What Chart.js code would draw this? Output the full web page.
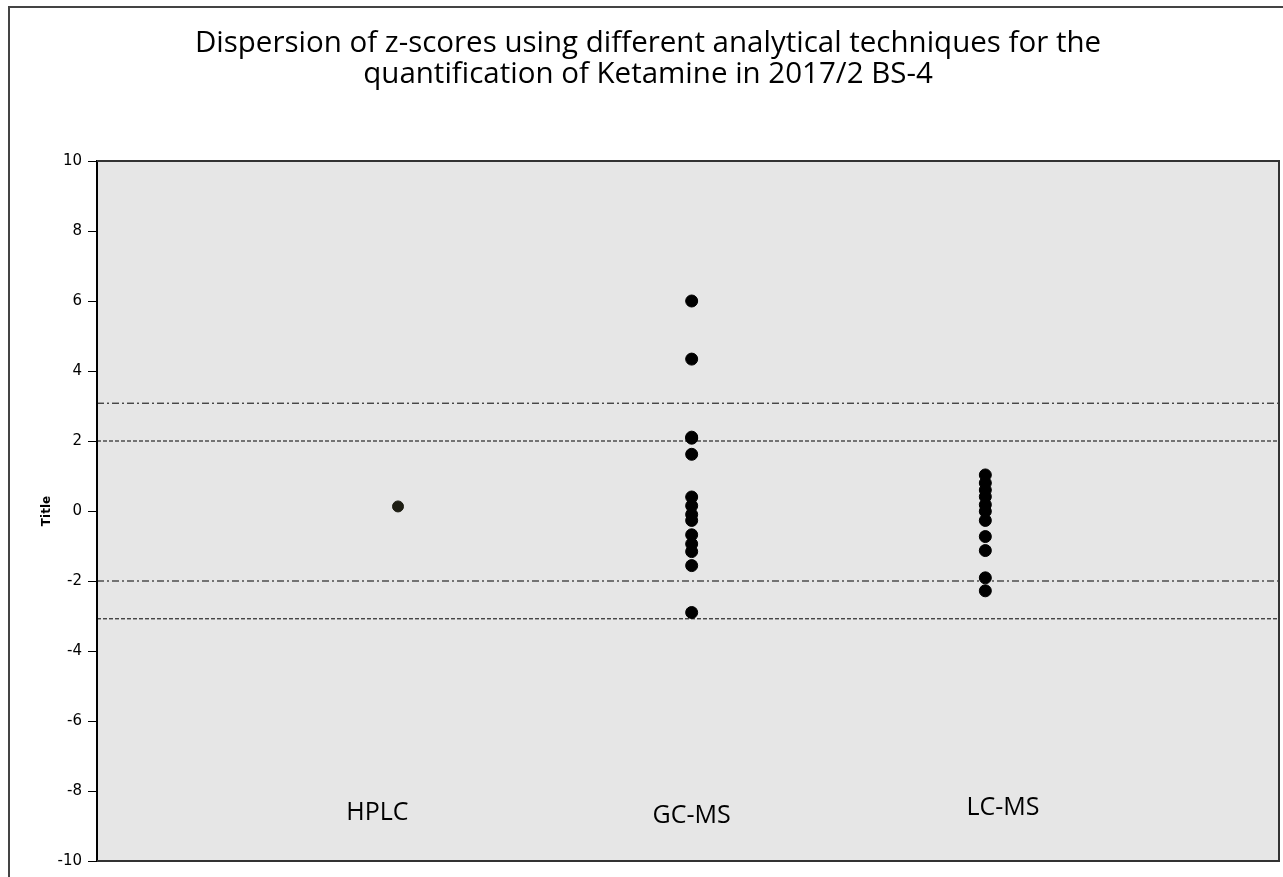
<!DOCTYPE html>
<html>
<head>
<meta charset="utf-8">
<script src="https://cdn.jsdelivr.net/npm/chart.js@4"></script>
<style>
  html, body { margin: 0; padding: 0; background: #fff; overflow: hidden; }
  #wrap { width: 1283px; height: 877px; position: relative; overflow: hidden; }
</style>
</head>
<body>
<div id="wrap"><canvas id="chart" width="1286" height="877"></canvas></div>
<script>
// z-scores par technique
const categories = ["HPLC", "GC-MS", "LC-MS"];
const hplc = [0.13];
const gcms = [6.0, 4.34, 2.11, 2.08, 1.62, 0.40, 0.15, -0.1, -0.27, -0.68, -0.94, -1.16, -1.56, -2.90];
const lcms = [1.03, 0.80, 0.60, 0.41, 0.18, -0.01, -0.27, -0.73, -1.13, -1.91, -2.28];
const yTicks = [-10, -8, -6, -4, -2, 0, 2, 4, 6, 8, 10];
// limites (tirets / tirets-points)
const limitDashDot = [3.08, -2];
const limitDashed = [2, -3.08];

const toPts = (vals, x) => vals.map(v => ({ x: x, y: v }));
const hLine = y => [{ x: -0.025, y: y }, { x: 4, y: y }];

const lineSets = [];
limitDashDot.forEach(v => lineSets.push({
    type: 'line', data: hLine(v), borderColor: '#000', borderWidth: 1,
    borderDash: [7, 3, 2, 3], pointRadius: 0, fill: false, order: 5
}));
limitDashed.forEach(v => lineSets.push({
    type: 'line', data: hLine(v), borderColor: '#000', borderWidth: 1,
    borderDash: [4, 2], pointRadius: 0, fill: false, order: 5
}));

const bgPlugin = {
    id: 'bg',
    beforeDraw(chart) {
        const { ctx, chartArea: a } = chart;
        ctx.save();
        ctx.fillStyle = '#e6e6e6';
        ctx.fillRect(a.left, a.top, a.right - a.left, a.bottom - a.top);
        // cadre extérieur
        ctx.strokeStyle = '#444';
        ctx.lineWidth = 2;
        ctx.strokeRect(9, 7, 1290, 890);
        ctx.restore();
    },
    afterDatasetsDraw(chart) {
        const { ctx, chartArea: a, scales } = chart;
        ctx.save();
        ctx.strokeStyle = '#333';
        ctx.lineWidth = 2;
        ctx.beginPath();
        ctx.moveTo(a.left, a.top);
        ctx.lineTo(a.right, a.top);
        ctx.lineTo(a.right, a.bottom);
        ctx.lineTo(a.left, a.bottom);
        ctx.stroke();
        // étiquettes des catégories dans le graphique
        ctx.fillStyle = '#000';
        ctx.font = '25px "Open Sans", sans-serif';
        ctx.textAlign = 'center';
        ctx.textBaseline = 'middle';
        const lx = [0.93, 2.0, 3.06], ly = [-8.62, -8.7, -8.48];
        categories.forEach((c, i) => {
            ctx.fillText(c, scales.x.getPixelForValue(lx[i]), scales.y.getPixelForValue(ly[i]));
        });
        // titre
        ctx.font = '29.5px "Open Sans", sans-serif';
        ctx.fillText("Dispersion of z-scores using different analytical techniques for the", 648, 44);
        ctx.fillText("quantification of Ketamine in 2017/2 BS-4", 648, 75);
        ctx.restore();
    }
};

new Chart(document.getElementById("chart"), {
    type: 'scatter',
    data: {
        datasets: [
            { label: categories[0], data: toPts(hplc, 1), backgroundColor: '#1e1e14', borderColor: '#1e1e14', pointRadius: 5.5, order: 1 },
            { label: categories[1], data: toPts(gcms, 2), backgroundColor: '#000', borderColor: '#000', pointRadius: 6, order: 1 },
            { label: categories[2], data: toPts(lcms, 3), backgroundColor: '#000', borderColor: '#000', pointRadius: 6, order: 1 },
            ...lineSets
        ]
    },
    options: {
        responsive: false,
        animation: false,
        layout: { padding: { left: 40, top: 161, right: 0, bottom: 16 } },
        plugins: { legend: { display: false }, tooltip: { enabled: false } },
        scales: {
            x: { type: 'linear', min: -0.025, max: 4, display: false },
            y: {
                min: -10, max: 10,
                afterBuildTicks: s => { s.ticks = yTicks.map(v => ({ value: v })); },
                afterFit: s => { s.width = 57; },
                ticks: { color: '#000', font: { family: 'DejaVu Sans', size: 15 }, padding: 6 },
                grid: { drawOnChartArea: false, drawTicks: true, tickLength: 9, color: '#000', lineWidth: 1 },
                border: { display: true, color: '#000', width: 2 },
                title: { display: true, text: 'Title', color: '#000', font: { family: 'DejaVu Sans', size: 12, weight: 'bold' }, padding: 0 }
            }
        }
    },
    plugins: [bgPlugin]
});
</script>
</body>
</html>
